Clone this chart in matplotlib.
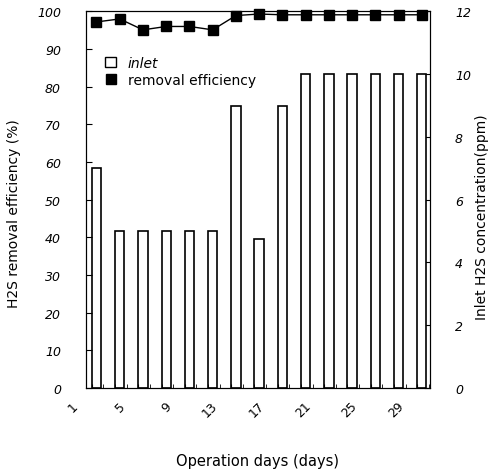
import matplotlib.pyplot as plt
import matplotlib.transforms as mtransforms
from matplotlib.lines import Line2D
from matplotlib.patches import Patch

days = [1, 3, 5, 7, 9, 11, 13, 15, 17, 19, 21, 23, 25, 27, 29]
inlet_ppm = [7, 5, 5, 5, 5, 5, 9, 4.75, 9, 10, 10, 10, 10, 10, 10]
removal_eff = [97.2, 98.0, 95.1, 96.0, 96.0, 95.1, 98.9, 99.3, 99.1, 99.1, 99.1, 99.1, 99.1, 99.1, 99.1]
tick_days = [1, 5, 9, 13, 17, 21, 25, 29]

plt.rcParams['font.family'] = ['DejaVu Sans']

fig = plt.figure(figsize=(4.9, 4.77), dpi=100)
ax = fig.add_axes([0.1755, 0.1845, 0.702, 0.7895])
ax2 = ax.twinx()

# bars on right axis (ppm), line on left axis (%)
ax2.bar([d + 0.4 for d in days], inlet_ppm, width=0.8, color='white',
        edgecolor='black', linewidth=1.2, zorder=2)
ax2.set_ylim(0, 12)
ax2.set_yticks(range(0, 13, 2))

ax.set_zorder(ax2.get_zorder() + 1)
ax.patch.set_visible(False)
ax.plot([d + 0.4 for d in days], removal_eff, color='black', lw=1,
        marker='s', markersize=7, clip_on=False, zorder=3)
ax.set_ylim(0, 100)
ax.set_yticks(range(0, 101, 10))
ax.set_xlim(0.5, 30.1)

ax.set_xticks(tick_days)
ax.set_xticks(range(1, 31), minor=True)
ax.tick_params(axis='x', which='both', direction='in', length=3, pad=8)
ax.tick_params(axis='y', direction='in', length=4, labelsize=9, pad=18)
ax2.tick_params(axis='y', direction='in', length=4, labelsize=9, pad=18)
ax.set_xticklabels([str(d) for d in tick_days], rotation=45, ha='right',
                   va='top', fontsize=9)
shift = mtransforms.ScaledTranslation(-11 / 100, 0, fig.dpi_scale_trans)
for lab in ax.xaxis.get_majorticklabels():
    lab.set_transform(lab.get_transform() + shift)
for lab in ax.get_yticklabels() + ax2.get_yticklabels():
    lab.set_fontstyle('italic')

ax.set_ylabel('H2S removal efficiency (%)', fontsize=10)
ax.yaxis.set_label_coords(-0.19, 0.465)
fig.text(0.984, 0.329, 'Inlet H2S concentration(ppm)', rotation=90,
         ha='center', va='bottom', fontsize=10)
ax.set_xlabel('Operation days (days)', fontsize=10.5, labelpad=24)

handles = [Patch(facecolor='white', edgecolor='black', label='inlet'),
           Line2D([], [], color='black', marker='s', linestyle='none',
                  markersize=7, label='removal efficiency')]
leg = ax.legend(handles=handles, loc='upper left', bbox_to_anchor=(0.02, 0.915),
                frameon=False, fontsize=10, handlelength=0.8,
                handletextpad=0.8, labelspacing=0.2)
leg.get_texts()[0].set_fontstyle('italic')

fig.savefig('out.png', dpi=100)
